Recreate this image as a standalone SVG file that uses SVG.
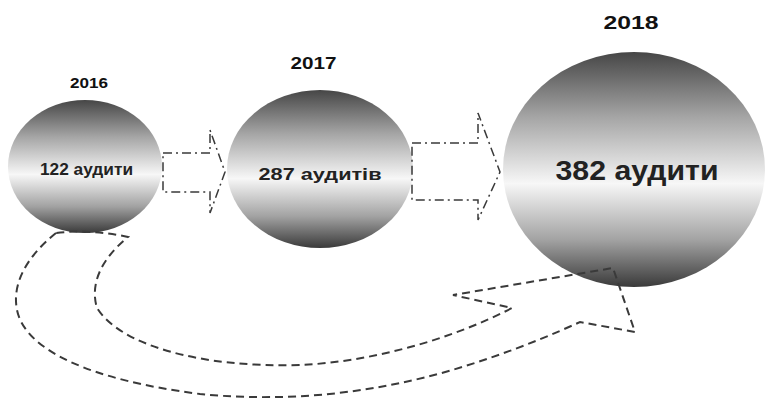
<svg xmlns="http://www.w3.org/2000/svg" width="766" height="398" viewBox="0 0 766 398">
<defs>
<linearGradient id="g" x1="0" y1="0" x2="0" y2="1">
<stop offset="0" stop-color="#464646"/>
<stop offset="0.28" stop-color="#a6a6a6"/>
<stop offset="0.56" stop-color="#f7f7f7"/>
<stop offset="0.8" stop-color="#a2a2a2"/>
<stop offset="1" stop-color="#3a3a3a"/>
</linearGradient>
</defs>
<style>
.c{fill:url(#g)}
.t{font-family:"Liberation Sans",Arial,sans-serif;font-weight:bold;fill:#222;text-anchor:middle}
.y{font-family:"Liberation Sans",Arial,sans-serif;font-weight:bold;fill:#111;text-anchor:middle}
.dd{fill:none;stroke:#3a3a3a;stroke-width:1.5;stroke-dasharray:9 4 2 4}
.da{fill:none;stroke:#3a3a3a;stroke-width:2;stroke-dasharray:8 5}
</style>
<rect width="766" height="398" fill="#fff"/>
<g id="node2016">
<ellipse class="c" cx="85" cy="166.5" rx="77" ry="66.5"/>
<text class="y" x="89" y="88" font-size="14" textLength="38" lengthAdjust="spacingAndGlyphs">2016</text>
<text class="t" x="86.5" y="175" font-size="16" textLength="93" lengthAdjust="spacingAndGlyphs">122 аудити</text>
</g>
<g id="node2017">
<ellipse class="c" cx="320" cy="169" rx="93" ry="79"/>
<text class="y" x="313.5" y="69" font-size="16" textLength="46" lengthAdjust="spacingAndGlyphs">2017</text>
<text class="t" x="320" y="180" font-size="17" textLength="123" lengthAdjust="spacingAndGlyphs">287 аудитів</text>
</g>
<g id="node2018">
<ellipse class="c" cx="634" cy="169.5" rx="131" ry="117.5"/>
<text class="y" x="631" y="29" font-size="19" textLength="55" lengthAdjust="spacingAndGlyphs">2018</text>
<text class="t" x="637" y="180" font-size="28" textLength="163" lengthAdjust="spacingAndGlyphs">382 аудити</text>
</g>
<g id="connectors">
<path class="dd" d="M163,153 L210,153 L210,130 L225,172 L210,213 L210,192 L163,192 Z"/>
<path class="dd" d="M412,143 L478,143 L478,113 L500,172 L478,220 L478,200 L412,200 Z"/>
<path class="da" d="M56,233 C25,258 12,285 17,310 C25,350 90,380 200,394 C260,400 330,398 400,383 C460,371 530,345 580,322 L635,332 L613,268 L453,295 L512,308 C450,340 370,362 300,365 C200,368 120,345 97,308 C90,285 100,260 128,237 C105,232 80,230 56,233 Z"/>
</g>
</svg>
